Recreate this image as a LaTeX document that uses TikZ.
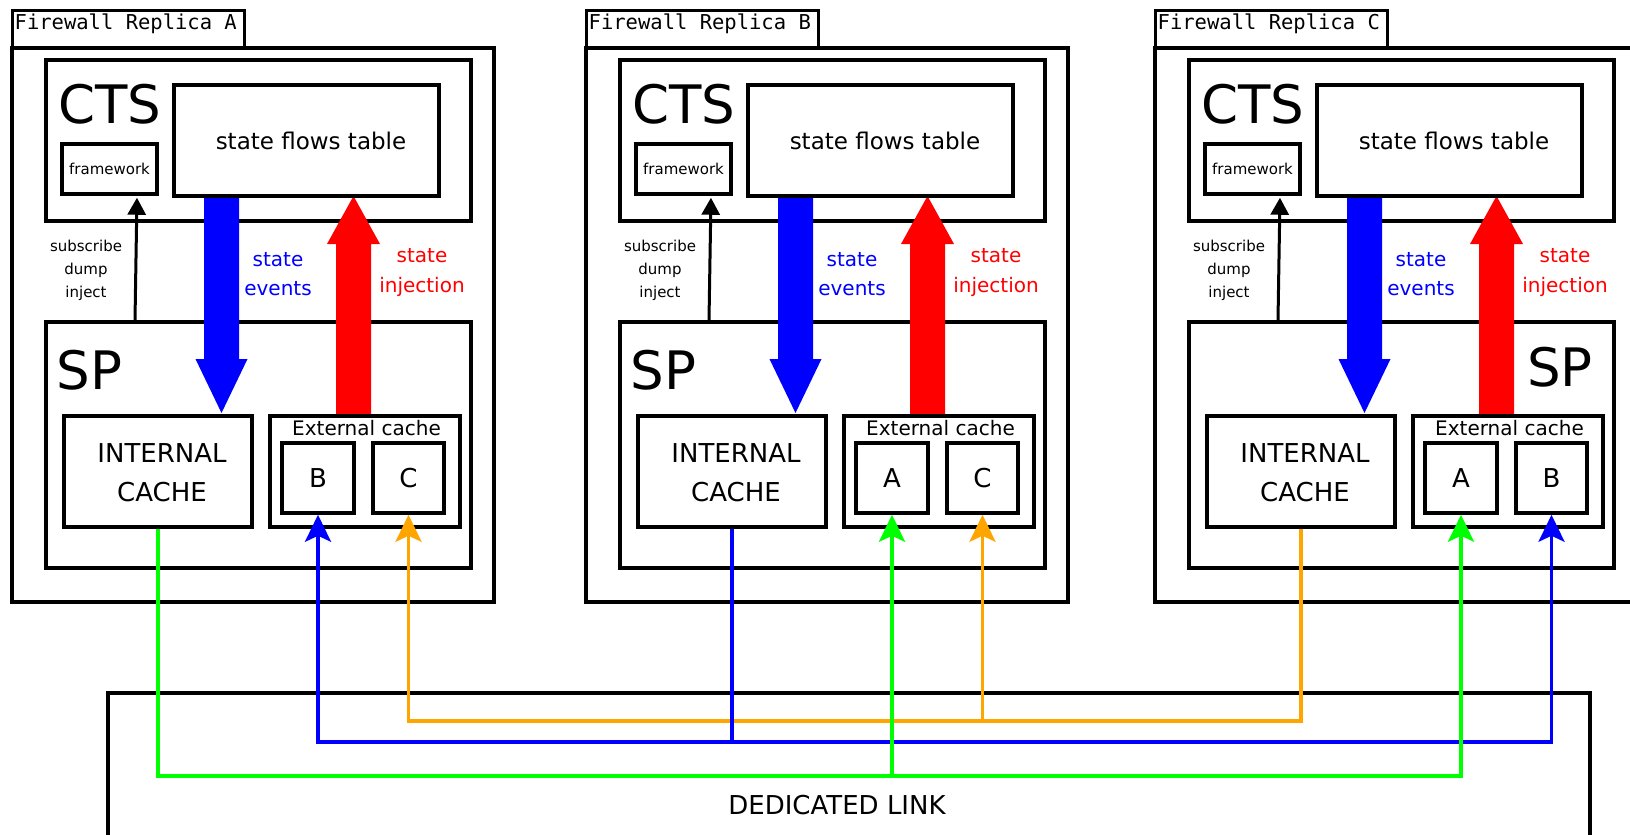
\documentclass[tikz,border=0pt]{standalone}
\usepackage{fontspec}
\setmainfont{DejaVu Sans}
\newfontfamily\tabfont{DejaVu Sans Mono}
\usetikzlibrary{fit,arrows.meta}

\definecolor{lgreen}{RGB}{0,255,0}
\definecolor{lblue}{RGB}{0,0,255}
\definecolor{lred}{RGB}{255,0,0}
\definecolor{lorange}{RGB}{255,165,0}

\pgfdeclarelayer{boxes}
\pgfdeclarelayer{flows}
\pgfsetlayers{boxes,flows,main}

\tikzset{
  frame/.style={draw=black, line width=3.5pt, inner sep=0pt},
  tabbox/.style={draw=black, line width=3pt, inner sep=0pt},
  tabtext/.style={font=\tabfont\fontsize{20.5}{24}\selectfont, inner sep=0pt},
  biglabel/.style={font=\fontsize{53}{64}\selectfont, inner sep=0pt},
  letter/.style={font=\fontsize{26}{31}\selectfont, inner sep=0pt},
  ctl/.style={draw=black, line width=3pt, -{Triangle[length=17pt,width=18pt]}, shorten >=2pt},
  link/.style={line width=3.5pt, line join=miter, -{Stealth[length=27pt,width=26pt,inset=6pt]}},
}

% one firewall replica: #1 offset, #2 name, #3/#4 peers held in the external cache,
% #5 position and #6 anchor of the SP label
\newcommand\replica[6]{%
\begin{scope}[xshift=#1pt]
  \begin{pgfonlayer}{boxes}
    \node[tabbox, fit={(12,10)(244,48)}] (tab#2) {};
    \node[frame, fit={(12,48)(494,602)}] (fw#2) {};
    \node[frame, fit={(46,60)(471,221)}] (cts#2) {};
    \node[frame, fit={(46,322)(471,568)}] (sp#2) {};
  \end{pgfonlayer}
  \node[tabtext, anchor=base west] (tabt#2) at (14.5,29) {Firewall Replica #2};
  \node[biglabel, anchor=base west] (ctsl#2) at (58,123) {CTS};
  \node[biglabel, #6] (spl#2) at (#5) {SP};
  \node[frame, fit={(62,144)(157,194)}] (fwk#2) {};
  \node[font=\fontsize{15}{18}\selectfont, inner sep=0pt] (fwkl#2) at (fwk#2.center) {framework};
  \node[frame, fit={(174,85)(439,196)}] (sft#2) {};
  \node[font=\fontsize{23}{28}\selectfont] (sftl#2) at (311,140.5) {state flows table};
  \node[frame, fit={(64,416)(252,527)}] (ic#2) {};
  \node[align=center, font=\fontsize{26}{39}\selectfont] (icl#2) at (162,473) {INTERNAL\\CACHE};
  \node[frame, fit={(270,416)(460,527)}] (ec#2) {};
  \node[font=\fontsize{20}{24}\selectfont, anchor=base, inner sep=0pt] (ecl#2) at (366.5,435) {External cache};
  \node[frame, fit={(282,443)(354,513)}] (x#2#3) {};
  \node[letter] (xl#2#3) at (x#2#3.center) {#3};
  \node[frame, fit={(373,443)(444,513)}] (x#2#4) {};
  \node[letter] (xl#2#4) at (x#2#4.center) {#4};
  \node[align=center, font=\fontsize{15}{23}\selectfont] (cmd#2) at (86,270) {subscribe\\dump\\inject};
  \node[align=center, text=lblue, font=\fontsize{20}{29}\selectfont] (evl#2) at (278,274.4) {state\\events};
  \node[align=center, text=lred, font=\fontsize{20}{30}\selectfont] (injl#2) at (422,273) {state\\injection};
  \draw[ctl] (sp#2.north -| 135,0) -- (fwk#2.south -| 137,0);
  \begin{pgfonlayer}{flows}
    \fill[lblue] (sft#2.south -| 204,0) -- (204,359) -- (195.5,359) -- (221.5,413)
      -- (247.5,359) -- (239,359) -- (sft#2.south -| 239,0) -- cycle;
    \fill[lred] (ec#2.north -| 336,0) -- (336,244) -- (327,244) -- (353.5,196)
      -- (380,244) -- (371,244) -- (ec#2.north -| 371,0) -- cycle;
  \end{pgfonlayer}
\end{scope}}

\begin{document}
\begin{tikzpicture}[x=1pt, y=-1pt]
  \useasboundingbox (0,0) rectangle (1630,835);
  \begin{pgfonlayer}{boxes}
    \fill[white] (0,0) rectangle (1630,835);
  \end{pgfonlayer}

  \replica{0}{A}{B}{C}{56.5,389}{anchor=base west}
  \replica{574}{B}{A}{C}{56.5,389}{anchor=base west}
  \replica{1143}{C}{A}{B}{450,386}{anchor=base east}

  % shared replication link
  \begin{pgfonlayer}{boxes}
    \node[frame, fit={(108,693)(1590,900)}] (dl) {};
  \end{pgfonlayer}
  \node[font=\fontsize{26}{31}\selectfont, anchor=base, inner sep=0pt] (dll) at (837,814) {DEDICATED LINK};

  \coordinate (gmid) at (xBA.south |- 0,776);
  \coordinate (bmid) at (icB.south |- 0,742);
  \coordinate (omid) at (icC.south |- 0,721);
  \coordinate (obr) at (xBC.south |- 0,721);

  \draw[link, lorange] (icC.south) -- (omid) -| (xAC.south);
  \draw[link, lorange] (obr) -- (xBC.south);
  \draw[link, lblue] (icB.south) -- (bmid) -| (xAB.south);
  \draw[link, lblue] (bmid) -| (xCB.south);
  \draw[link, lgreen] (icA.south) |- (gmid) -| (xCA.south);
  \draw[link, lgreen] (gmid) -- (xBA.south);
\end{tikzpicture}
\end{document}
